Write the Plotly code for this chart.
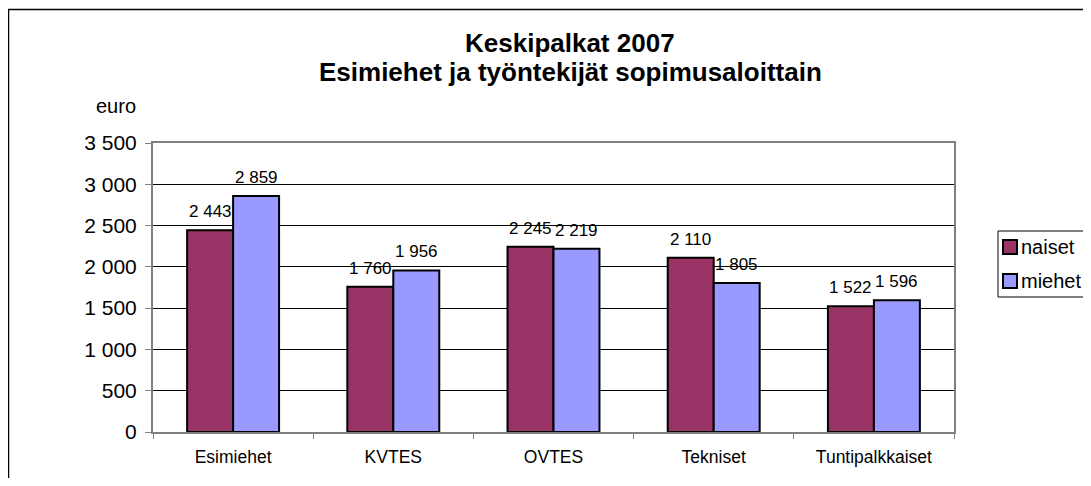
import plotly.graph_objects as go

categories = ["Esimiehet", "KVTES", "OVTES", "Tekniset", "Tuntipalkkaiset"]
naiset = [2443, 1760, 2245, 2110, 1522]
miehet = [2859, 1956, 2219, 1805, 1596]
series_names = ["naiset", "miehet"]
colors = ["#993366", "#9999FF"]
title_lines = ["Keskipalkat 2007", "Esimiehet ja työntekijät sopimusaloittain"]
y_title = "euro"
y_ticks = [0, 500, 1000, 1500, 2000, 2500, 3000, 3500]

FONT = "Arial, Liberation Sans, sans-serif"

OFF = 8  # page body margin offset
W, H = 1091 - OFF, 486 - 2 * OFF
L, T = 153 - OFF, 143 - OFF
R = W - (954 - OFF)
B = H - (432 - OFF)
pw, ph = W - L - R, H - T - B


def px_x(p):
    return (p - OFF - L) / pw


def px_y(p):
    return (H - B - (p - OFF)) / ph


def fmt(v):
    return f"{v:,}".replace(",", " ")


fig = go.Figure()
for name, vals, col in zip(series_names, [naiset, miehet], colors):
    fig.add_trace(go.Bar(
        x=categories, y=vals, name=name,
        marker=dict(color=col, line=dict(color="black", width=2)),
        showlegend=False,
    ))

annotations = []
shifts = [-23, 23]
for vals, sh in zip([naiset, miehet], shifts):
    for c, v in zip(categories, vals):
        annotations.append(dict(
            x=c, y=v, xref="x", yref="y", text=fmt(v), showarrow=False,
            xshift=sh, yshift=7, yanchor="bottom",
            font=dict(family=FONT, size=17, color="black"),
        ))

# title lines
for txt, ypix in zip(title_lines, [43, 72]):
    annotations.append(dict(
        x=px_x(570), y=px_y(ypix), xref="paper", yref="paper", text=f"<b>{txt}</b>",
        showarrow=False, xanchor="center", yanchor="middle",
        font=dict(family=FONT, size=26, color="black"),
    ))

# y title
annotations.append(dict(
    x=px_x(138), y=px_y(106), xref="paper", yref="paper", text=y_title,
    showarrow=False, xanchor="right", yanchor="middle",
    font=dict(family=FONT, size=20, color="black"),
))

# manual legend
shapes = []
legend_rows = [247, 281]
for name, col, yp in zip(series_names, colors, legend_rows):
    shapes.append(dict(
        type="rect", xref="paper", yref="paper",
        x0=px_x(1003), x1=px_x(1017), y0=px_y(yp - 7), y1=px_y(yp + 7),
        fillcolor=col, line=dict(color="black", width=2),
    ))
    annotations.append(dict(
        x=px_x(1019), y=px_y(yp), xref="paper", yref="paper", text=name,
        showarrow=False, xanchor="left", yanchor="middle",
        font=dict(family=FONT, size=20, color="black"),
    ))
shapes.append(dict(
    type="rect", xref="paper", yref="paper",
    x0=px_x(998), x1=px_x(1100), y0=px_y(297), y1=px_y(231),
    line=dict(color="black", width=1), fillcolor="rgba(0,0,0,0)",
))

# outer chart border
shapes.append(dict(
    type="rect", xref="paper", yref="paper",
    x0=px_x(8.5), x1=px_x(1100), y0=px_y(495), y1=px_y(9.5),
    line=dict(color="black", width=1.5), fillcolor="rgba(0,0,0,0)",
))

fig.update_layout(
    width=W, height=H,
    margin=dict(l=L, r=R, t=T, b=B, autoexpand=False),
    paper_bgcolor="white", plot_bgcolor="white",
    barmode="group", bargap=0.426, bargroupgap=0,
    separators=", ",
    font=dict(family=FONT, color="black"),
    annotations=annotations, shapes=shapes,
    showlegend=False,
)
fig.update_xaxes(
    type="category",
    showline=True, linecolor="#808080", linewidth=2, mirror=True,
    ticks="outside", tickson="boundaries", ticklen=5, tickcolor="#808080", tickwidth=1,
    tickfont=dict(family=FONT, size=17.5, color="black"),
    ticklabelstandoff=8,
    showgrid=False,
)
fig.update_yaxes(
    range=[0, 3500], tickvals=y_ticks, tickformat=",d",
    showline=True, linecolor="#808080", linewidth=2, mirror=True,
    ticks="outside", ticklen=6, tickcolor="#808080", tickwidth=1,
    tickfont=dict(family=FONT, size=21, color="black"),
    ticklabelstandoff=4,
    showgrid=True, gridcolor="black", gridwidth=1,
    zeroline=False,
)

fig.write_html("out.html")
